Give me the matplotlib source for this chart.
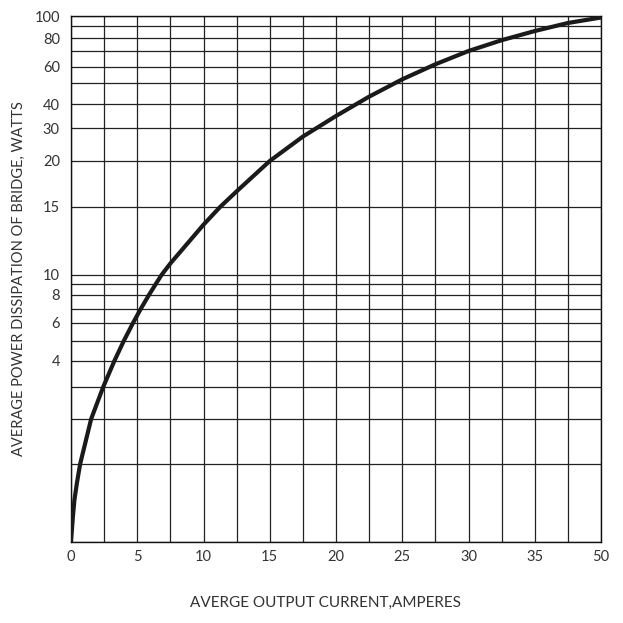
import numpy as np
import matplotlib
matplotlib.use("Agg")
import matplotlib.pyplot as plt

# curve (current in A, power in W)
current = [0, 0.14, 0.26, 0.44, 0.69, 1.52, 2.43, 3.27, 3.98, 4.68,
           5.26, 5.88, 6.4, 6.83, 7.5, 10, 11.25, 12.5, 15, 17.5, 20, 22.5,
           25, 27.5, 30, 32.5, 35, 37.5, 40]
power = [0, 0.32, 0.54, 0.75, 1.0, 2.0, 3.0, 4.0, 5.0, 6.0,
         7.0, 8.0, 9.0, 10.0, 10.85, 13.7, 15.0, 16.7, 20.0, 27.4, 35.0,
         43.5, 52.3, 61.7, 70.0, 78.3, 85.8, 93.0, 98.5]

# the odd hand-drawn power scale: grid values and where they sit (0..1)
grid_vals = [0, 1, 2, 3, 4, 5, 6, 7, 8, 9, 10, 15, 20, 30, 40, 50, 60,
             70, 80, 90, 100]
grid_pix = np.array([542, 464, 419, 387, 361, 341, 323, 309, 295, 284, 275,
                     207, 161, 128, 104, 83, 67, 51, 38, 26, 16])
grid_pos = (542 - grid_pix) / (542 - 16)

y_labels = ["", "", "", "", "4", "", "6", "", "8", "", "10", "15", "20",
            "30", "40", "", "60", "", "80", "", "100"]

x_ticks = np.arange(0, 40.1, 2.5)
x_labels = ["0", "", "5", "", "10", "", "15", "", "20", "", "25", "",
            "30", "", "35", "", "50"]


def fwd(v):
    return np.interp(v, grid_vals, grid_pos)


def inv(p):
    return np.interp(p, grid_pos, grid_vals)


plt.rcParams['font.family'] = ['Lato', 'DejaVu Sans']

fig = plt.figure(figsize=(6.23, 6.23), dpi=100)
ax = fig.add_axes([71 / 623, 81 / 623, 530 / 623, 526 / 623])
ax.set_yscale("function", functions=(fwd, inv))

ax.plot(current, power, color="#1a1a1a", lw=3, solid_capstyle="butt",
        solid_joinstyle="round", zorder=3)

ax.set_xlim(0, 40)
ax.set_ylim(0, 100)
ax.set_xticks(x_ticks, x_labels)
ax.set_yticks(grid_vals, y_labels)
ax.minorticks_off()
ax.grid(True, color="#222222", lw=0.9)
ax.tick_params(length=0, labelsize=10.5, labelcolor="#333333")
ax.tick_params(axis="x", pad=6)
ax.tick_params(axis="y", pad=8)
for s in ax.spines.values():
    s.set_color("#111111")
    s.set_linewidth(1.0)

fig.text(325 / 623, 1 - 603 / 623, "AVERGE OUTPUT CURRENT,AMPERES",
         fontsize=11, color="#333333", ha="center", va="center")
fig.text(19 / 623, 1 - 279 / 623, "AVERAGE POWER DISSIPATION OF BRIDGE, WATTS",
         fontsize=10.5, color="#333333", ha="center", va="center",
         rotation=90)

plt.savefig("out.png", dpi=100)
